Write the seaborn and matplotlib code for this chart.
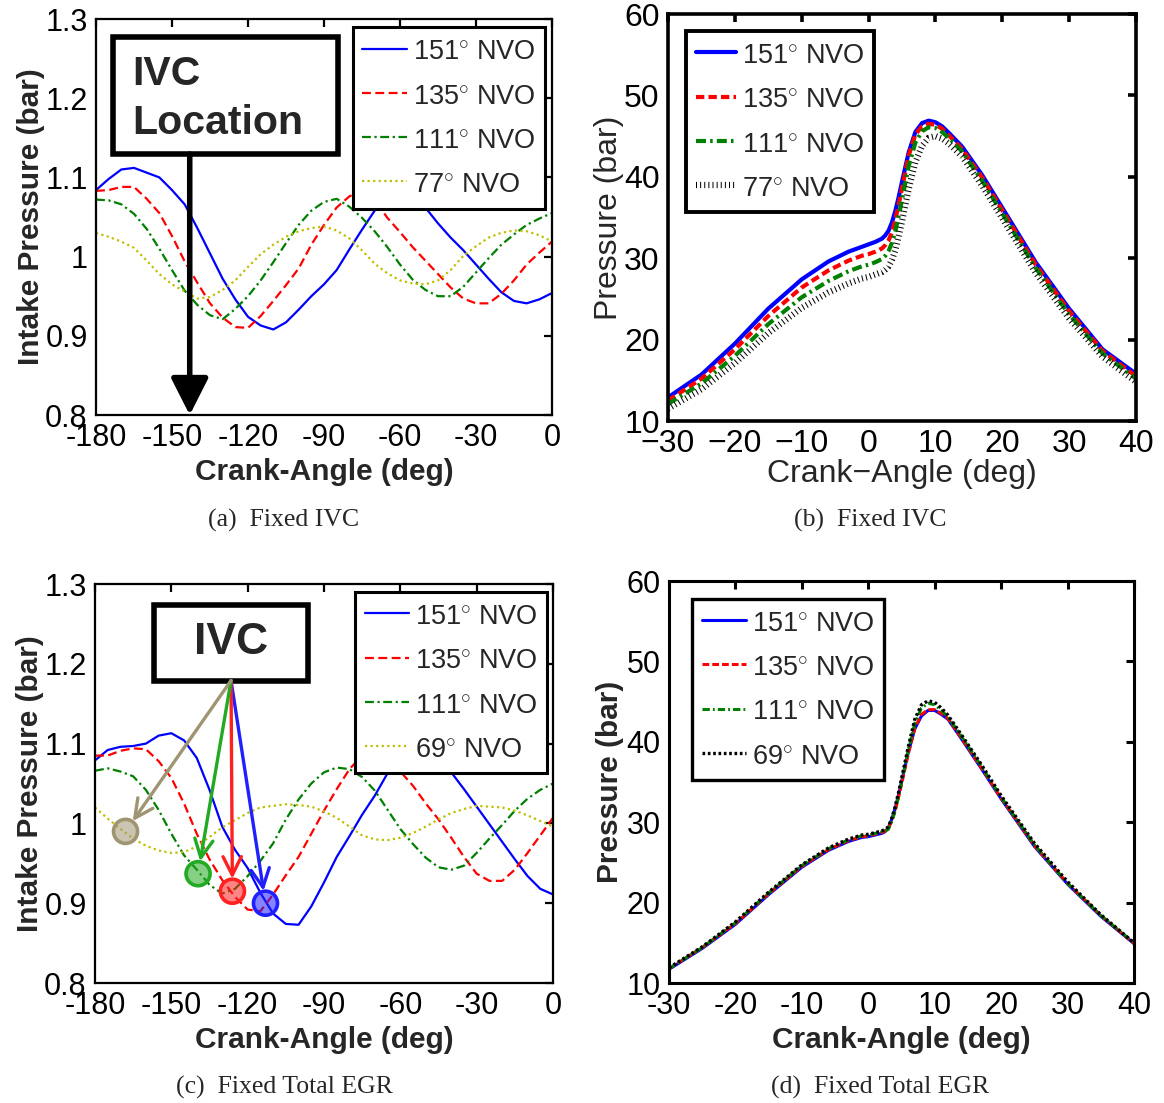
import matplotlib
matplotlib.use("Agg")
import matplotlib.pyplot as plt
import seaborn as sns
from matplotlib.patches import Rectangle

# ---------------------------------------------------------------- data
# Intake pressure traces (bar) sampled every 5 crank-angle degrees
intake_angle = [-180, -175, -170, -165, -160, -155, -150, -145, -140, -135,
                -130, -125, -120, -115, -110, -105, -100, -95, -90, -85,
                -80, -75, -70, -65, -60, -55, -50, -45, -40, -35,
                -30, -25, -20, -15, -10, -5, 0]

# Fixed IVC
a_p151 = [1.084, 1.098, 1.110, 1.112, 1.106, 1.100, 1.084, 1.066, 1.036, 1.004,
          0.972, 0.946, 0.924, 0.913, 0.908, 0.917, 0.933, 0.950, 0.965, 0.983,
          1.009, 1.034, 1.058, 1.075, 1.085, 1.078, 1.062, 1.042, 1.024, 1.008,
          0.990, 0.972, 0.955, 0.944, 0.941, 0.946, 0.954]
a_p135 = [1.083, 1.084, 1.088, 1.088, 1.073, 1.055, 1.026, 0.994, 0.967, 0.941,
          0.923, 0.911, 0.910, 0.925, 0.944, 0.964, 0.985, 1.015, 1.040, 1.062,
          1.076, 1.084, 1.072, 1.049, 1.031, 1.012, 0.995, 0.978, 0.961, 0.947,
          0.941, 0.941, 0.953, 0.970, 0.990, 1.005, 1.019]
a_p111 = [1.072, 1.071, 1.066, 1.054, 1.035, 1.010, 0.983, 0.957, 0.939, 0.926,
          0.921, 0.934, 0.950, 0.970, 0.993, 1.017, 1.040, 1.058, 1.069, 1.073,
          1.063, 1.049, 1.032, 1.012, 0.990, 0.971, 0.958, 0.950, 0.950, 0.962,
          0.980, 0.998, 1.015, 1.028, 1.040, 1.048, 1.055]
a_p77 = [1.030, 1.025, 1.019, 1.011, 0.995, 0.978, 0.965, 0.956, 0.947, 0.949,
         0.958, 0.970, 0.987, 1.003, 1.015, 1.025, 1.032, 1.036, 1.038, 1.033,
         1.023, 1.008, 0.991, 0.979, 0.970, 0.966, 0.965, 0.970, 0.983, 1.001,
         1.013, 1.024, 1.030, 1.033, 1.032, 1.027, 1.019]

# Fixed total EGR
c_p151 = [1.079, 1.092, 1.096, 1.097, 1.100, 1.110, 1.113, 1.104, 1.082, 1.042,
          0.996, 0.967, 0.944, 0.913, 0.887, 0.874, 0.873, 0.896, 0.926, 0.958,
          0.984, 1.011, 1.035, 1.063, 1.080, 1.090, 1.090, 1.080, 1.064, 1.043,
          1.021, 0.999, 0.977, 0.955, 0.934, 0.918, 0.911]
c_p135 = [1.085, 1.085, 1.091, 1.094, 1.093, 1.078, 1.057, 1.025, 0.987, 0.955,
          0.929, 0.908, 0.892, 0.890, 0.911, 0.935, 0.958, 0.987, 1.016, 1.043,
          1.068, 1.085, 1.093, 1.080, 1.065, 1.047, 1.025, 1.005, 0.982, 0.958,
          0.937, 0.928, 0.928, 0.942, 0.963, 0.985, 1.007]
c_p111 = [1.066, 1.069, 1.065, 1.059, 1.042, 1.017, 0.987, 0.960, 0.942, 0.923,
          0.912, 0.918, 0.934, 0.953, 0.975, 1.005, 1.030, 1.050, 1.064, 1.070,
          1.068, 1.058, 1.041, 1.017, 0.993, 0.974, 0.957, 0.945, 0.942, 0.947,
          0.963, 0.981, 0.998, 1.016, 1.031, 1.042, 1.050]
c_p69 = [1.020, 1.006, 0.993, 0.981, 0.972, 0.966, 0.963, 0.964, 0.971, 0.983,
         0.995, 1.004, 1.013, 1.020, 1.022, 1.024, 1.023, 1.021, 1.015, 1.007,
         0.996, 0.985, 0.980, 0.979, 0.982, 0.988, 0.996, 1.005, 1.013, 1.018,
         1.022, 1.021, 1.020, 1.016, 1.010, 1.003, 0.996]

# IVC timing of each case on the intake trace (fixed total EGR)
ivc_angle = [-113.0, -126.0, -139.5, -168.0]
ivc_pressure = [0.900, 0.915, 0.937, 0.990]
ivc_fixed = -143.0

# In-cylinder pressure (bar)
cyl_angle = [-30, -25, -20, -15, -10, -6, -3, -1, 0, 1, 2, 2.5, 3, 3.5, 4, 4.5,
             5, 6, 7, 8, 9, 10, 11, 12, 14, 17, 20, 25, 30, 35, 40]

b_p151 = [12.9, 15.7, 19.5, 23.8, 27.4, 29.6, 30.8, 31.4, 31.7, 32.0, 32.4, 32.8,
          33.4, 34.4, 35.8, 37.5, 39.4, 43.0, 45.5, 46.6, 46.9, 46.7, 46.2, 45.4,
          43.7, 40.2, 36.2, 29.5, 23.8, 18.8, 15.8]
b_p135 = [12.5, 15.2, 18.8, 22.9, 26.4, 28.5, 29.7, 30.3, 30.5, 30.8, 31.2, 31.6,
          32.2, 33.2, 34.7, 36.6, 38.6, 42.6, 45.2, 46.2, 46.5, 46.4, 45.9, 45.1,
          43.4, 39.9, 35.9, 29.2, 23.5, 18.6, 15.5]
b_p111 = [12.1, 14.6, 18.0, 21.9, 25.2, 27.2, 28.4, 29.0, 29.2, 29.5, 29.9, 30.3,
          30.9, 31.9, 33.3, 35.2, 37.2, 41.3, 44.2, 45.6, 46.1, 46.0, 45.5, 44.8,
          43.1, 39.5, 35.5, 28.8, 23.1, 18.3, 15.2]
b_p77 = [11.5, 13.9, 17.1, 20.8, 23.9, 25.8, 26.9, 27.5, 27.7, 28.0, 28.3, 28.6,
         29.0, 29.8, 31.0, 32.7, 34.5, 38.5, 41.8, 43.8, 44.8, 45.0, 44.7, 44.1,
         42.5, 38.9, 34.9, 28.2, 22.6, 17.9, 14.8]

d_p151 = [11.7, 14.3, 17.3, 21.0, 24.4, 26.5, 27.6, 28.1, 28.2, 28.4, 28.6, 28.8,
          29.3, 30.3, 31.6, 33.2, 35.0, 38.6, 41.6, 43.2, 43.9, 43.9, 43.4, 42.8,
          40.4, 36.7, 32.9, 27.0, 22.3, 18.3, 14.9]
d_p135 = [11.8, 14.4, 17.4, 21.1, 24.5, 26.6, 27.7, 28.2, 28.3, 28.5, 28.7, 28.9,
          29.2, 30.1, 31.3, 32.9, 34.7, 38.4, 41.7, 43.4, 44.0, 44.0, 43.5, 42.9,
          40.5, 36.8, 33.0, 27.1, 22.4, 18.4, 14.9]
d_p111 = [11.8, 14.4, 17.5, 21.2, 24.6, 26.7, 27.8, 28.3, 28.4, 28.6, 28.8, 28.9,
          29.1, 30.0, 31.3, 33.0, 34.9, 38.9, 42.3, 44.2, 44.8, 44.6, 43.9, 43.1,
          40.7, 37.0, 33.1, 27.2, 22.4, 18.4, 15.0]
d_p69 = [11.9, 14.5, 17.6, 21.3, 24.7, 26.8, 27.9, 28.4, 28.5, 28.7, 28.9, 29.1,
         29.4, 30.4, 31.8, 33.5, 35.4, 39.3, 42.8, 44.6, 45.1, 44.9, 44.2, 43.3,
         40.9, 37.2, 33.3, 27.4, 22.6, 18.5, 15.0]

nvo_a = ["151", "135", "111", "77"]
nvo_c = ["151", "135", "111", "69"]

intake_xticks = [-180, -150, -120, -90, -60, -30, 0]
intake_xlabels = ["-180", "-150", "-120", "-90", "-60", "-30", "0"]
intake_yticks = [0.8, 0.9, 1.0, 1.1, 1.2, 1.3]
intake_ylabels = ["0.8", "0.9", "1", "1.1", "1.2", "1.3"]
cyl_xticks = [-30, -20, -10, 0, 10, 20, 30, 40]
cyl_xlabels_minus = ["\u221230", "\u221220", "\u221210", "0", "10", "20", "30", "40"]
cyl_xlabels_hyphen = ["-30", "-20", "-10", "0", "10", "20", "30", "40"]
cyl_yticks = [10, 20, 30, 40, 50, 60]
cyl_ylabels = ["10", "20", "30", "40", "50", "60"]

# ---------------------------------------------------------------- style
sns.set_theme(style="white")
plt.rcParams["font.family"] = ["Liberation Sans", "DejaVu Sans"]
plt.rcParams["mathtext.fontset"] = "custom"
plt.rcParams["mathtext.rm"] = "Liberation Sans"
plt.rcParams["mathtext.it"] = "Liberation Sans"

BLUE, RED, GREEN, OLIVE = "#0000ff", "#ff0000", "#008000", "#bfbf00"

fig = plt.figure(figsize=(11.64, 11.03), dpi=100)
ax_a = fig.add_axes([0.08247, 0.62375, 0.39175, 0.35902])
ax_b = fig.add_axes([0.57388, 0.61831, 0.40206, 0.36899])
ax_c = fig.add_axes([0.08162, 0.10879, 0.39347, 0.36174])
ax_d = fig.add_axes([0.57474, 0.10879, 0.39948, 0.36446])


def nvo_label(v):
    return v + r"$^{\circ}$ NVO"


def draw_series(ax, x, series, names, colors, styles, widths):
    for y, name, col, ls, lw in zip(series, names, colors, styles, widths):
        sns.lineplot(x=x, y=y, ax=ax, color=col, linestyle=ls, linewidth=lw,
                     label=nvo_label(name), errorbar=None, sort=False)


def frame(ax, spine_w, tick_size):
    for s in ax.spines.values():
        s.set_visible(True)
        s.set_color("black")
        s.set_linewidth(spine_w)
    ax.tick_params(direction="in", top=True, right=True, length=6,
                   width=spine_w, labelsize=tick_size, pad=6, colors="black")
    ax.grid(False)


def legend(ax, loc, anchor, size, lw, hl):
    leg = ax.legend(loc=loc, bbox_to_anchor=anchor, borderaxespad=0,
                    fontsize=size, frameon=True, fancybox=False, framealpha=1,
                    edgecolor="black", handlelength=hl, handletextpad=0.2,
                    handleheight=1.25, labelspacing=0.55, borderpad=0.35)
    leg.get_frame().set_linewidth(lw)
    leg.set_zorder(20)
    return leg


intake_styles = ["-", (0, (4, 2)), (0, (4, 1.6, 1, 1.6)), (0, (1, 1.5))]
intake_colors = [BLUE, RED, GREEN, OLIVE]

# ---------------------------------------------------------------- (a)
draw_series(ax_a, intake_angle, [a_p151, a_p135, a_p111, a_p77], nvo_a,
            intake_colors, intake_styles, [1.6] * 4)
ax_a.set_xlim(-180, 0)
ax_a.set_ylim(0.8, 1.3)
ax_a.set_xticks(intake_xticks, intake_xlabels)
ax_a.set_yticks(intake_yticks, intake_ylabels)
frame(ax_a, 1.6, 22)
ax_a.set_xlabel("Crank-Angle (deg)", fontsize=21.5, fontweight="bold", labelpad=3)
ax_a.set_ylabel("Intake Pressure (bar)", fontsize=21.5, fontweight="bold", labelpad=0)
legend(ax_a, "upper right", (0.984, 0.979), 19.5, 2.2, 1.65)

ax_a.add_patch(Rectangle((0.037, 0.659), 0.493, 0.295, transform=ax_a.transAxes,
                         facecolor="white", edgecolor="black", linewidth=4, zorder=8))
ax_a.text(0.080, 0.862, "IVC", transform=ax_a.transAxes, fontsize=29.5,
          fontweight="bold", ha="left", va="center", zorder=9)
ax_a.text(0.080, 0.738, "Location", transform=ax_a.transAxes, fontsize=29.5,
          fontweight="bold", ha="left", va="center", zorder=9)
box_bottom_a = 0.8 + 0.659 * 0.5
ax_a.annotate("", xy=(ivc_fixed, 0.8), xytext=(ivc_fixed, box_bottom_a),
              arrowprops=dict(arrowstyle="-|>,head_length=0.75,head_width=0.38",
                              color="black", lw=4, mutation_scale=30,
                              shrinkA=0, shrinkB=0), zorder=9)

# ---------------------------------------------------------------- (b)
draw_series(ax_b, cyl_angle, [b_p151, b_p135, b_p111, b_p77], nvo_a,
            [BLUE, RED, GREEN, "black"],
            ["-", (0, (2, 1)), (0, (2.4, 1, 0.6, 1)), (0, (0.16, 0.5))],
            [3.0, 3.0, 3.0, 4.5])
ax_b.set_xlim(-30, 40)
ax_b.set_ylim(10, 60)
ax_b.set_xticks(cyl_xticks, cyl_xlabels_minus)
ax_b.set_yticks(cyl_yticks, cyl_ylabels)
frame(ax_b, 2.6, 23)
ax_b.set_xlabel("Crank\u2212Angle (deg)", fontsize=23, labelpad=0)
ax_b.set_ylabel("Pressure (bar)", fontsize=23, labelpad=0)
legend(ax_b, "upper left", (0.039, 0.958), 19.5, 2.8, 1.5)

# ---------------------------------------------------------------- (c)
draw_series(ax_c, intake_angle, [c_p151, c_p135, c_p111, c_p69], nvo_c,
            intake_colors, intake_styles, [1.6] * 4)
ax_c.set_xlim(-180, 0)
ax_c.set_ylim(0.8, 1.3)
ax_c.set_xticks(intake_xticks, intake_xlabels)
ax_c.set_yticks(intake_yticks, intake_ylabels)
frame(ax_c, 1.6, 22)
ax_c.set_xlabel("Crank-Angle (deg)", fontsize=21.5, fontweight="bold", labelpad=3)
ax_c.set_ylabel("Intake Pressure (bar)", fontsize=21.5, fontweight="bold", labelpad=0)
legend(ax_c, "upper right", (0.987, 0.980), 19.5, 2.2, 1.65)

ax_c.add_patch(Rectangle((0.128, 0.758), 0.337, 0.190, transform=ax_c.transAxes,
                         facecolor="white", edgecolor="black", linewidth=4, zorder=8))
ax_c.text(0.297, 0.853, "IVC", transform=ax_c.transAxes, fontsize=32,
          fontweight="bold", ha="center", va="center", zorder=9)

marker_colors = ["#2020ff", "#ff2020", "#22aa22", "#a09572"]
src = (-180 + 0.297 * 180, 0.8 + 0.758 * 0.5)
for ang, p, col in zip(ivc_angle, ivc_pressure, marker_colors):
    ax_c.scatter([ang], [p], s=300, facecolor=col, alpha=0.55, edgecolor="none", zorder=6)
    ax_c.scatter([ang], [p], s=300, facecolor="none", edgecolor=col, linewidth=2.6, zorder=7)
    ax_c.annotate("", xy=(ang, p), xytext=src,
                  arrowprops=dict(arrowstyle="->,head_length=0.6,head_width=0.3",
                                  color=col, lw=2.4, mutation_scale=22,
                                  shrinkA=0, shrinkB=9), zorder=9)

# ---------------------------------------------------------------- (d)
draw_series(ax_d, cyl_angle, [d_p151, d_p135, d_p111, d_p69], nvo_c,
            [BLUE, RED, GREEN, "black"],
            ["-", (0, (2.2, 1)), (0, (2.4, 1, 0.6, 1)), (0, (0.8, 0.8))],
            [2.2, 2.2, 2.2, 2.4])
ax_d.set_xlim(-30, 40)
ax_d.set_ylim(10, 60)
ax_d.set_xticks(cyl_xticks, cyl_xlabels_hyphen)
ax_d.set_yticks(cyl_yticks, cyl_ylabels)
frame(ax_d, 2.2, 22)
ax_d.set_xlabel("Crank-Angle (deg)", fontsize=21.5, fontweight="bold", labelpad=3)
ax_d.set_ylabel("Pressure (bar)", fontsize=21.5, fontweight="bold", labelpad=2)
legend(ax_d, "upper left", (0.050, 0.956), 19.5, 2.4, 1.65)

# ---------------------------------------------------------------- captions
cap = dict(fontsize=18.5, family=["Liberation Serif", "DejaVu Serif"], ha="center", va="center")
fig.text(284 / 1164, 1 - 520 / 1103, "(a)  Fixed IVC", **cap)
fig.text(870 / 1164, 1 - 520 / 1103, "(b)  Fixed IVC", **cap)
fig.text(284 / 1164, 1 - 1087 / 1103, "(c)  Fixed Total EGR", **cap)
fig.text(880 / 1164, 1 - 1087 / 1103, "(d)  Fixed Total EGR", **cap)

fig.savefig("out.png", dpi=100)
